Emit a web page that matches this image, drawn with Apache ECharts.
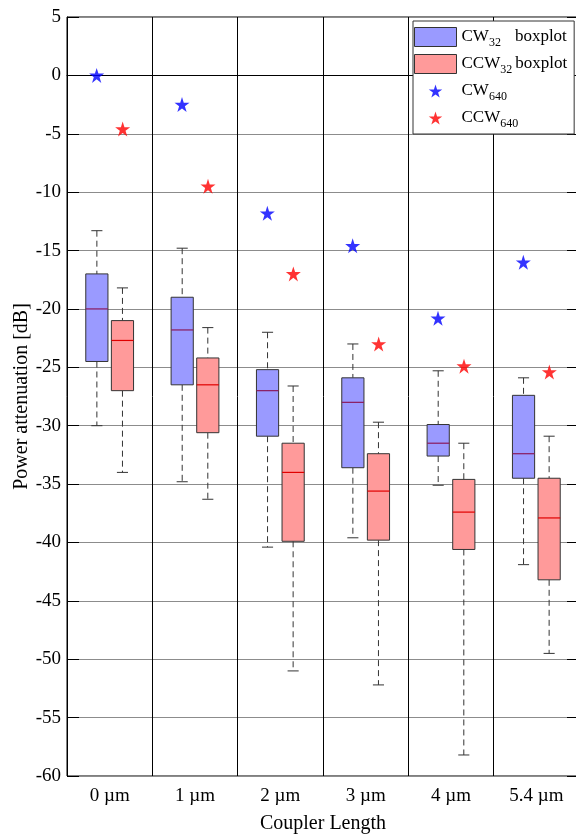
<!DOCTYPE html>
<html>
<head>
<meta charset="utf-8">
<script src="https://cdn.jsdelivr.net/npm/echarts@6/dist/echarts.min.js"></script>
<style>html,body{margin:0;padding:0;background:#fff}#c{width:576px;height:834px}</style>
</head>
<body>
<div id="c"></div>
<script>
const categories = ['0 µm', '1 µm', '2 µm', '3 µm', '4 µm', '5.4 µm'];
// CW32 boxplot stats
const cw32Min    = [-30.0, -34.8, -40.4, -39.6, -35.1, -41.9];
const cw32Q1     = [-24.5, -26.5, -30.9, -33.6, -32.6, -34.5];
const cw32Median = [-20.0, -21.8, -27.0, -28.0, -31.5, -32.4];
const cw32Q3     = [-17.0, -19.0, -25.2, -25.9, -29.9, -27.4];
const cw32Max    = [-13.3, -14.8, -22.0, -23.0, -25.3, -25.9];
// CCW32 boxplot stats
const ccw32Min    = [-34.0, -36.3, -51.0, -52.2, -58.2, -49.5];
const ccw32Q1     = [-27.0, -30.6, -39.9, -39.8, -40.6, -43.2];
const ccw32Median = [-22.7, -26.5, -34.0, -35.6, -37.4, -37.9];
const ccw32Q3     = [-21.0, -24.2, -31.5, -32.4, -34.6, -34.5];
const ccw32Max    = [-18.2, -21.6, -26.6, -29.7, -31.5, -30.9];
// single measurements
const cw640  = [0.0, -2.5, -11.8, -14.6, -20.8, -16.0];
const ccw640 = [-4.6, -9.5, -17.0, -23.0, -24.9, -25.4];
const yTicks = { min: -60, max: 5, interval: 5 };

const FONT = 'Liberation Serif';
const STAR_D = 'M50,0 L61.2,34.5 L97.6,34.5 L68.2,55.9 L79.4,90.5 L50,69.1 L20.6,90.5 L31.8,55.9 L2.4,34.5 L38.8,34.5 Z';
const STAR = 'path://' + STAR_D;
// legend star: padded bounding box so it renders smaller inside the 19px legend slot
const STAR_LEG = 'path://M50,-22 L50.01,-22 ' + STAR_D + ' M50,112 L50.01,112';

function boxData(mn, q1, md, q3, mx) {
  return categories.map((c, i) => [i, mn[i], q1[i], md[i], q3[i], mx[i]]);
}

function makeRender(offsetFrac, fill, medColor) {
  return function (params, api) {
    const idx = api.value(0);
    const band = api.size([1, 0])[0];
    const cx = api.coord([idx, 0])[0] + band * offsetFrac;
    const hw = band * 0.13;
    const cap = band * 0.065;
    const yMin = api.coord([idx, api.value(1)])[1];
    const yQ1 = api.coord([idx, api.value(2)])[1];
    const yMd = api.coord([idx, api.value(3)])[1];
    const yQ3 = api.coord([idx, api.value(4)])[1];
    const yMax = api.coord([idx, api.value(5)])[1];
    const dash = { stroke: '#333', lineWidth: 1, lineDash: [6, 4] };
    const solid = { stroke: '#333', lineWidth: 1 };
    return {
      type: 'group',
      children: [
        { type: 'line', shape: { x1: cx, y1: yMax, x2: cx, y2: yQ3 }, style: dash },
        { type: 'line', shape: { x1: cx, y1: yQ1, x2: cx, y2: yMin }, style: dash },
        { type: 'line', shape: { x1: cx - cap, y1: yMax, x2: cx + cap, y2: yMax }, style: solid },
        { type: 'line', shape: { x1: cx - cap, y1: yMin, x2: cx + cap, y2: yMin }, style: solid },
        { type: 'rect', shape: { x: cx - hw, y: yQ3, width: hw * 2, height: yQ1 - yQ3 }, style: { fill: fill, stroke: '#333', lineWidth: 1 } },
        { type: 'line', shape: { x1: cx - hw, y1: yMd, x2: cx + hw, y2: yMd }, style: { stroke: medColor, lineWidth: 1.2 } }
      ]
    };
  };
}

const chart = echarts.init(document.getElementById('c'), null, { renderer: 'canvas' });
const labelRich = {
  n: { fontFamily: FONT, fontSize: 17, color: '#000', lineHeight: 22 },
  s: { fontFamily: FONT, fontSize: 12, color: '#000', padding: [12, 0, 0, 0], lineHeight: 22 },
  sa: { fontFamily: FONT, fontSize: 12, color: '#000', padding: [12, 0, 0, 0], lineHeight: 22, width: 26 },
  sb: { fontFamily: FONT, fontSize: 12, color: '#000', padding: [12, 0, 0, 0], lineHeight: 22, width: 15 }
};
const legendText = {
  'CW32 boxplot': '{n|CW}{sa|32}{n|boxplot}',
  'CCW32 boxplot': '{n|CCW}{sb|32}{n|boxplot}',
  'CW640': '{n|CW}{s|640}',
  'CCW640': '{n|CCW}{s|640}'
};
chart.setOption({
  animation: false,
  backgroundColor: '#fff',
  grid: { left: 67, top: 17, right: -3, bottom: 58, outerBoundsMode: 'none', containLabel: false, show: true, borderColor: '#000', borderWidth: 1, backgroundColor: 'transparent' },
  legend: {
    orient: 'vertical',
    left: 413, top: 21,
    padding: [4, 7, 4, 1],
    itemGap: 3,
    itemWidth: 42, itemHeight: 19,
    backgroundColor: '#fff',
    borderColor: '#333', borderWidth: 1,
    textStyle: { rich: labelRich },
    formatter: name => legendText[name],
    data: [
      { name: 'CW32 boxplot', icon: 'rect', itemStyle: { color: '#9a9aff', borderColor: '#333', borderWidth: 1 } },
      { name: 'CCW32 boxplot', icon: 'rect', itemStyle: { color: '#ff9a9a', borderColor: '#333', borderWidth: 1 } },
      { name: 'CW640', icon: STAR_LEG, itemStyle: { color: '#0000ff' } },
      { name: 'CCW640', icon: STAR_LEG, itemStyle: { color: '#ff0000' } }
    ]
  },
  xAxis: {
    type: 'category',
    data: categories,
    boundaryGap: true,
    axisLine: { lineStyle: { color: '#000' } },
    axisTick: { show: false },
    axisLabel: { fontFamily: FONT, fontSize: 19, color: '#000', margin: 11 },
    splitLine: { show: true, lineStyle: { color: '#000', width: 1 } },
    name: 'Coupler Length',
    nameLocation: 'middle',
    nameGap: 38,
    nameMoveOverlap: false,
    nameTextStyle: { fontFamily: FONT, fontSize: 20, color: '#000' }
  },
  yAxis: [{
    type: 'value',
    min: yTicks.min, max: yTicks.max, interval: yTicks.interval,
    axisLine: { show: true, lineStyle: { color: '#000' } },
    axisTick: { show: true, inside: true, length: 12, lineStyle: { color: '#000' } },
    axisLabel: { fontFamily: FONT, fontSize: 19, color: '#000', margin: 6 },
    splitLine: { show: true, lineStyle: { color: '#8c8c8c', width: 1 } },
    name: 'Power attenuation [dB]',
    nameLocation: 'middle',
    nameGap: 35,
    nameMoveOverlap: false,
    nameTextStyle: { fontFamily: FONT, fontSize: 20, color: '#000' }
  }, {
    type: 'value', position: 'right',
    min: yTicks.min, max: yTicks.max, interval: yTicks.interval,
    axisLine: { show: true, lineStyle: { color: '#000' } },
    axisTick: { show: true, inside: true, length: 12, lineStyle: { color: '#000' } },
    axisLabel: { show: false },
    splitLine: { show: false }
  }],
  series: [
    {
      name: 'CW32 boxplot', type: 'custom', itemStyle: { color: '#9a9aff' },
      renderItem: makeRender(-0.15, '#9a9aff', '#8a1a5c'),
      encode: { x: 0, y: [1, 2, 3, 4, 5] },
      data: boxData(cw32Min, cw32Q1, cw32Median, cw32Q3, cw32Max), z: 3
    },
    {
      name: 'CCW32 boxplot', type: 'custom', itemStyle: { color: '#ff9a9a' },
      renderItem: makeRender(0.15, '#ff9a9a', '#e00000'),
      encode: { x: 0, y: [1, 2, 3, 4, 5] },
      data: boxData(ccw32Min, ccw32Q1, ccw32Median, ccw32Q3, ccw32Max), z: 3
    },
    {
      name: 'CW640', type: 'scatter', symbol: STAR, symbolSize: 15, symbolOffset: [-13, 0],
      itemStyle: { color: '#0000ff' },
      data: categories.map((c, i) => [i, cw640[i]]), z: 4
    },
    {
      name: 'CCW640', type: 'scatter', symbol: STAR, symbolSize: 15, symbolOffset: [13, 0],
      itemStyle: { color: '#ff0000' },
      data: categories.map((c, i) => [i, ccw640[i]]), z: 4
    }
  ]
});
</script>
</body>
</html>
